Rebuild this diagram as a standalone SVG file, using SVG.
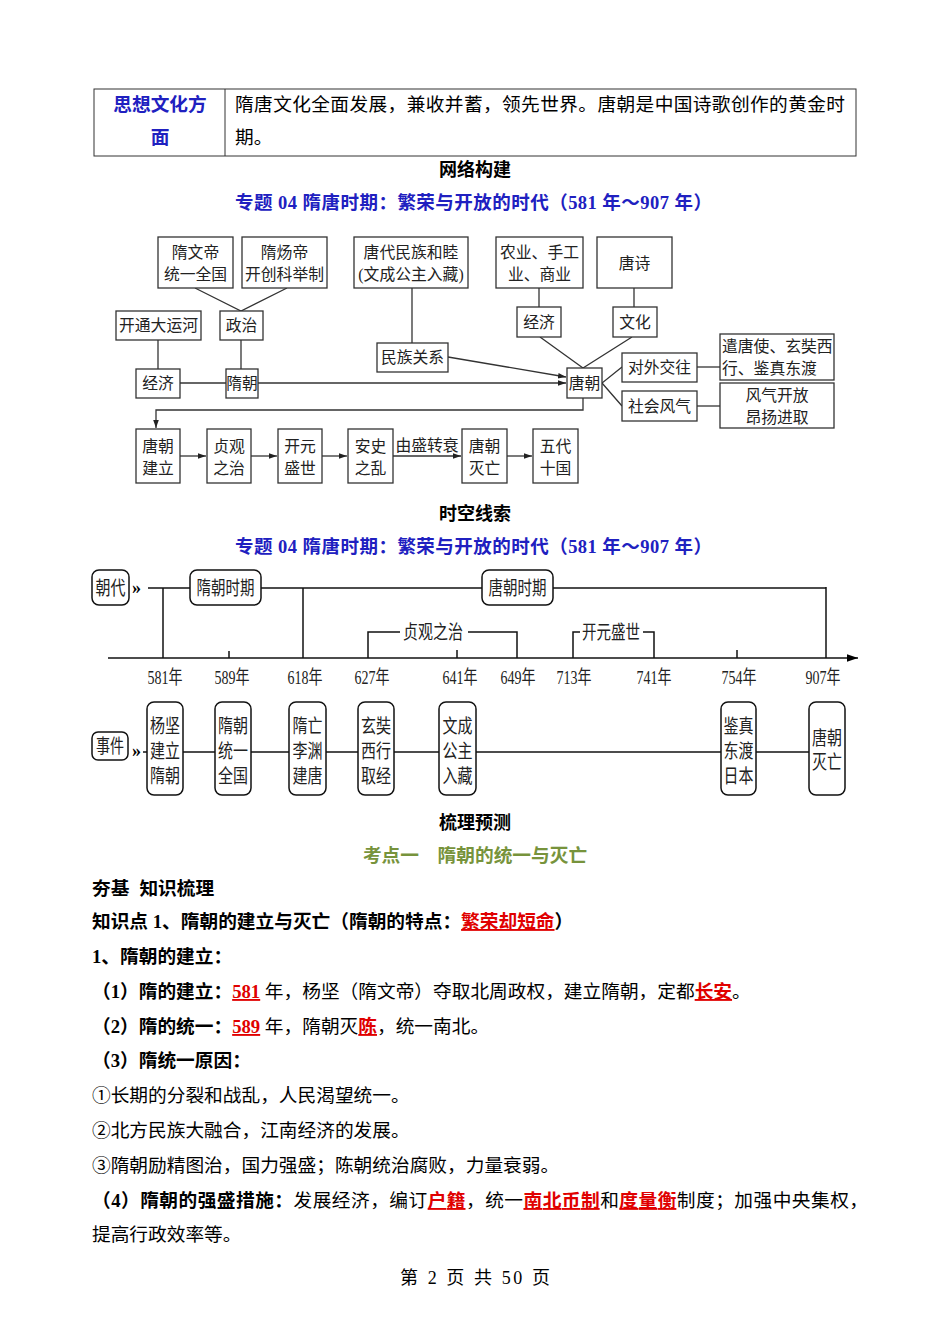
<svg xmlns="http://www.w3.org/2000/svg" width="950" height="1344" viewBox="0 0 950 1344">
<defs>
<marker id="ah" viewBox="0 0 10 10" refX="10" refY="5" markerWidth="8" markerHeight="8" markerUnits="userSpaceOnUse" orient="auto"><path d="M0,1.5 L10,5 L0,8.5 z" fill="#222"/></marker>
<marker id="ax" viewBox="0 0 10 10" refX="10" refY="5" markerWidth="11" markerHeight="11" markerUnits="userSpaceOnUse" orient="auto"><path d="M0,1.5 L10,5 L0,8.5 z" fill="#000"/></marker>
</defs>
<style>
text{font-family:'Liberation Serif','Noto Sans CJK SC',serif;fill:#000}
.b{font-weight:bold}
.blue{fill:#2020C0;font-weight:bold}
.red{fill:#E00000;font-weight:bold;text-decoration:underline}
.body{font-size:18.7px}
.nb{fill:#fff;stroke:#333;stroke-width:1.3}
.nt{font-size:15.8px;text-anchor:middle;fill:#222}
.nl{fill:none;stroke:#333;stroke-width:1.3}
.tb{fill:#fff;stroke:#111;stroke-width:1.5}
.tl{fill:none;stroke:#111;stroke-width:1.5}
.tt{font-size:19px;text-anchor:middle;fill:#222}
.yr{font-size:19px;text-anchor:middle;fill:#222}
</style>
<rect width="950" height="1344" fill="#fff"/>

<!-- top table -->
<g id="table">
<rect x="94" y="89" width="762" height="67" fill="none" stroke="#333" stroke-width="1"/>
<line x1="225" y1="89" x2="225" y2="156" stroke="#333" stroke-width="1"/>
<text class="blue" x="160" y="111" font-size="18.7" text-anchor="middle">思想文化方</text>
<text class="blue" x="160" y="144" font-size="18.7" text-anchor="middle">面</text>
<text class="body" x="235" y="111" textLength="610" lengthAdjust="spacing">隋唐文化全面发展，兼收并蓄，领先世界。唐朝是中国诗歌创作的黄金时</text>
<text class="body" x="235" y="144">期。</text>
</g>

<text class="b" x="475" y="176" font-size="18" text-anchor="middle">网络构建</text>
<text class="blue" x="235" y="209" font-size="18.5" textLength="477" lengthAdjust="spacing">专题 04  隋唐时期：繁荣与开放的时代（581 年～907 年）</text>

<!-- network diagram connectors -->
<g id="net-connectors">
<polyline class="nl" points="195,288 241,311 287,288"/>
<line class="nl" x1="158" y1="340" x2="158" y2="369"/>
<line class="nl" x1="241" y1="340" x2="241" y2="369"/>
<line class="nl" x1="180" y1="383" x2="226" y2="383"/>
<line class="nl" x1="258" y1="383" x2="566" y2="383" marker-end="url(#ah)"/>
<line class="nl" x1="412" y1="288" x2="412" y2="343"/>
<line class="nl" x1="448" y1="357" x2="566" y2="377" marker-end="url(#ah)"/>
<line class="nl" x1="539" y1="288" x2="539" y2="307"/>
<line class="nl" x1="634" y1="288" x2="634" y2="307"/>
<polyline class="nl" points="540,337 583,368 632,337"/>
<polyline class="nl" points="622,367 602,383 622,406"/>
<line class="nl" x1="697" y1="367" x2="720" y2="367"/>
<line class="nl" x1="697" y1="406" x2="720" y2="406"/>
<polyline class="nl" points="583,398 583,410 156,410 156,428" marker-end="url(#ah)"/>
<line class="nl" x1="180" y1="456" x2="206" y2="456" marker-end="url(#ah)"/>
<line class="nl" x1="251" y1="456" x2="277" y2="456" marker-end="url(#ah)"/>
<line class="nl" x1="322" y1="456" x2="347" y2="456" marker-end="url(#ah)"/>
<line class="nl" x1="393" y1="456" x2="461" y2="456" marker-end="url(#ah)"/>
<line class="nl" x1="507" y1="456" x2="532" y2="456" marker-end="url(#ah)"/>
<text class="nt" x="427" y="451">由盛转衰</text>
</g>

<!-- network nodes -->
<g id="n-suiwendi"><rect class="nb" x="158" y="237" width="75" height="51"/><text class="nt" x="195.5" y="258">隋文帝</text><text class="nt" x="195.5" y="280">统一全国</text></g>
<g id="n-suiyangdi"><rect class="nb" x="242" y="237" width="85" height="51"/><text class="nt" x="284.5" y="258">隋炀帝</text><text class="nt" x="284.5" y="280">开创科举制</text></g>
<g id="n-minzuhemu"><rect class="nb" x="354" y="237" width="114" height="51"/><text class="nt" x="411" y="258">唐代民族和睦</text><text class="nt" x="411" y="280">(文成公主入藏)</text></g>
<g id="n-yunhe"><rect class="nb" x="116" y="311" width="85" height="29"/><text class="nt" x="158.5" y="331">开通大运河</text></g>
<g id="n-zhengzhi"><rect class="nb" x="220" y="311" width="43" height="29"/><text class="nt" x="241.5" y="331">政治</text></g>
<g id="n-jingji1"><rect class="nb" x="136" y="369" width="44" height="29"/><text class="nt" x="158" y="389">经济</text></g>
<g id="n-suichao"><rect class="nb" x="226" y="369" width="32" height="29"/><text class="nt" x="242" y="389">隋朝</text></g>
<g id="n-minzuguanxi"><rect class="nb" x="377" y="343" width="71" height="29"/><text class="nt" x="412.5" y="363">民族关系</text></g>
<g id="n-nongye"><rect class="nb" x="496" y="237" width="87" height="51"/><text class="nt" x="539.5" y="258">农业、手工</text><text class="nt" x="539.5" y="280">业、商业</text></g>
<g id="n-tangshi"><rect class="nb" x="597" y="237" width="75" height="51"/><text class="nt" x="634.5" y="269">唐诗</text></g>
<g id="n-jingji2"><rect class="nb" x="517" y="307" width="44" height="30"/><text class="nt" x="539" y="328">经济</text></g>
<g id="n-wenhua"><rect class="nb" x="613" y="307" width="44" height="30"/><text class="nt" x="635" y="328">文化</text></g>
<g id="n-tangchao"><rect class="nb" x="567" y="368" width="35" height="30"/><text class="nt" x="584.5" y="389">唐朝</text></g>
<g id="n-duiwai"><rect class="nb" x="622" y="353" width="75" height="29"/><text class="nt" x="659.5" y="373">对外交往</text></g>
<g id="n-shehui"><rect class="nb" x="622" y="391" width="75" height="30"/><text class="nt" x="659.5" y="412">社会风气</text></g>
<g id="n-qiantang"><rect class="nb" x="720" y="334" width="114" height="46"/><text class="nt" x="722" y="352" style="text-anchor:start">遣唐使、玄奘西</text><text class="nt" x="722" y="374" style="text-anchor:start">行、鉴真东渡</text></g>
<g id="n-fengqi"><rect class="nb" x="720" y="383" width="114" height="45"/><text class="nt" x="777" y="401">风气开放</text><text class="nt" x="777" y="423">昂扬进取</text></g>
<g id="n-tangjianli"><rect class="nb" x="136" y="429" width="44" height="54"/><text class="nt" x="158" y="452">唐朝</text><text class="nt" x="158" y="474">建立</text></g>
<g id="n-zhenguan"><rect class="nb" x="207" y="429" width="44" height="54"/><text class="nt" x="229" y="452">贞观</text><text class="nt" x="229" y="474">之治</text></g>
<g id="n-kaiyuan"><rect class="nb" x="278" y="429" width="44" height="54"/><text class="nt" x="300" y="452">开元</text><text class="nt" x="300" y="474">盛世</text></g>
<g id="n-anshi"><rect class="nb" x="348" y="429" width="45" height="54"/><text class="nt" x="370.5" y="452">安史</text><text class="nt" x="370.5" y="474">之乱</text></g>
<g id="n-tangmiewang"><rect class="nb" x="462" y="429" width="45" height="54"/><text class="nt" x="484.5" y="452">唐朝</text><text class="nt" x="484.5" y="474">灭亡</text></g>
<g id="n-wudai"><rect class="nb" x="533" y="429" width="45" height="54"/><text class="nt" x="555.5" y="452">五代</text><text class="nt" x="555.5" y="474">十国</text></g>

<text class="b" x="475" y="520" font-size="18" text-anchor="middle">时空线索</text>
<text class="blue" x="235" y="553" font-size="18.5" textLength="477" lengthAdjust="spacing">专题 04  隋唐时期：繁荣与开放的时代（581 年～907 年）</text>

<!-- timeline connectors -->
<g id="timeline-connectors">
<line class="tl" x1="148" y1="588" x2="826" y2="588"/>
<line class="tl" x1="826" y1="587" x2="826" y2="658"/>
<line class="tl" x1="163" y1="588" x2="163" y2="658"/>
<line class="tl" x1="303" y1="588" x2="303" y2="658"/>
<line class="tl" x1="229" y1="651" x2="229" y2="658"/>
<line class="tl" x1="457" y1="650" x2="457" y2="658"/>
<line class="tl" x1="737" y1="650" x2="737" y2="658"/>
<polyline class="tl" points="368,658 368,632 400,632"/>
<polyline class="tl" points="468,632 517,632 517,658"/>
<polyline class="tl" points="573,658 573,632 580,632"/>
<polyline class="tl" points="643,632 654,632 654,658"/>
<line class="tl" x1="108" y1="658" x2="858" y2="658" marker-end="url(#ax)"/>
<line class="tl" x1="143" y1="752" x2="809" y2="752"/>
<text class="tt" x="433" y="639" textLength="60" lengthAdjust="spacingAndGlyphs">贞观之治</text>
<text class="tt" x="611" y="639" textLength="58" lengthAdjust="spacingAndGlyphs">开元盛世</text>
<text class="yr" x="165" y="684" textLength="35" lengthAdjust="spacingAndGlyphs">581年</text>
<text class="yr" x="232" y="684" textLength="35" lengthAdjust="spacingAndGlyphs">589年</text>
<text class="yr" x="305" y="684" textLength="35" lengthAdjust="spacingAndGlyphs">618年</text>
<text class="yr" x="372" y="684" textLength="35" lengthAdjust="spacingAndGlyphs">627年</text>
<text class="yr" x="460" y="684" textLength="35" lengthAdjust="spacingAndGlyphs">641年</text>
<text class="yr" x="518" y="684" textLength="35" lengthAdjust="spacingAndGlyphs">649年</text>
<text class="yr" x="574" y="684" textLength="35" lengthAdjust="spacingAndGlyphs">713年</text>
<text class="yr" x="654" y="684" textLength="35" lengthAdjust="spacingAndGlyphs">741年</text>
<text class="yr" x="739" y="684" textLength="35" lengthAdjust="spacingAndGlyphs">754年</text>
<text class="yr" x="823" y="684" textLength="35" lengthAdjust="spacingAndGlyphs">907年</text>
<text x="132" y="594" font-size="18" font-weight="bold" fill="#222">»</text>
<text x="132" y="757" font-size="18" font-weight="bold" fill="#222">»</text>
</g>

<!-- timeline nodes -->
<g id="t-chaodai"><rect class="tb" x="92" y="570" width="37" height="35" rx="7"/><text class="tt" x="110.5" y="595" textLength="30" lengthAdjust="spacingAndGlyphs">朝代</text></g>
<g id="t-suiqi"><rect class="tb" x="190" y="570" width="71" height="35" rx="7"/><text class="tt" x="225.5" y="595" textLength="58" lengthAdjust="spacingAndGlyphs">隋朝时期</text></g>
<g id="t-tangqi"><rect class="tb" x="482" y="570" width="71" height="35" rx="7"/><text class="tt" x="517.5" y="595" textLength="58" lengthAdjust="spacingAndGlyphs">唐朝时期</text></g>
<g id="t-shijian"><rect class="tb" x="92" y="732" width="36" height="28" rx="6"/><text class="tt" x="110" y="753" textLength="28" lengthAdjust="spacingAndGlyphs">事件</text></g>
<g id="e1"><rect class="tb" x="147" y="702" width="36" height="93" rx="7"/><text class="tt" x="165" y="733" textLength="30" lengthAdjust="spacingAndGlyphs">杨坚</text><text class="tt" x="165" y="758" textLength="30" lengthAdjust="spacingAndGlyphs">建立</text><text class="tt" x="165" y="783" textLength="30" lengthAdjust="spacingAndGlyphs">隋朝</text></g>
<g id="e2"><rect class="tb" x="215" y="702" width="36" height="93" rx="7"/><text class="tt" x="233" y="733" textLength="30" lengthAdjust="spacingAndGlyphs">隋朝</text><text class="tt" x="233" y="758" textLength="30" lengthAdjust="spacingAndGlyphs">统一</text><text class="tt" x="233" y="783" textLength="30" lengthAdjust="spacingAndGlyphs">全国</text></g>
<g id="e3"><rect class="tb" x="289" y="702" width="37" height="93" rx="7"/><text class="tt" x="307.5" y="733" textLength="30" lengthAdjust="spacingAndGlyphs">隋亡</text><text class="tt" x="307.5" y="758" textLength="30" lengthAdjust="spacingAndGlyphs">李渊</text><text class="tt" x="307.5" y="783" textLength="30" lengthAdjust="spacingAndGlyphs">建唐</text></g>
<g id="e4"><rect class="tb" x="358" y="702" width="36" height="93" rx="7"/><text class="tt" x="376" y="733" textLength="30" lengthAdjust="spacingAndGlyphs">玄奘</text><text class="tt" x="376" y="758" textLength="30" lengthAdjust="spacingAndGlyphs">西行</text><text class="tt" x="376" y="783" textLength="30" lengthAdjust="spacingAndGlyphs">取经</text></g>
<g id="e5"><rect class="tb" x="439" y="702" width="37" height="93" rx="7"/><text class="tt" x="457.5" y="733" textLength="30" lengthAdjust="spacingAndGlyphs">文成</text><text class="tt" x="457.5" y="758" textLength="30" lengthAdjust="spacingAndGlyphs">公主</text><text class="tt" x="457.5" y="783" textLength="30" lengthAdjust="spacingAndGlyphs">入藏</text></g>
<g id="e6"><rect class="tb" x="721" y="702" width="35" height="93" rx="7"/><text class="tt" x="738.5" y="733" textLength="30" lengthAdjust="spacingAndGlyphs">鉴真</text><text class="tt" x="738.5" y="758" textLength="30" lengthAdjust="spacingAndGlyphs">东渡</text><text class="tt" x="738.5" y="783" textLength="30" lengthAdjust="spacingAndGlyphs">日本</text></g>
<g id="e7"><rect class="tb" x="809" y="702" width="36" height="93" rx="7"/><text class="tt" x="827" y="745" textLength="30" lengthAdjust="spacingAndGlyphs">唐朝</text><text class="tt" x="827" y="769" textLength="30" lengthAdjust="spacingAndGlyphs">灭亡</text></g>

<!-- text section -->
<g id="text-section">
<text class="b" x="475" y="829" font-size="18" text-anchor="middle">梳理预测</text>
<text x="475" y="862" font-size="18.7" text-anchor="middle" font-weight="bold" style="fill:#77933C">考点一　隋朝的统一与灭亡</text>
<text class="b body" x="92" y="895">夯基<tspan dx="10">知识梳理</tspan></text>
<text class="b body" x="92" y="928">知识点 1、隋朝的建立与灭亡（隋朝的特点：<tspan class="red">繁荣却短命</tspan>）</text>
<text class="b body" x="92" y="963">1、隋朝的建立：</text>
<text class="body" x="92" y="998"><tspan class="b">（1）隋的建立：</tspan><tspan class="red">581</tspan> 年，杨坚（隋文帝）夺取北周政权，建立隋朝，定都<tspan class="red">长安</tspan>。</text>
<text class="body" x="92" y="1033"><tspan class="b">（2）隋的统一：</tspan><tspan class="red">589</tspan> 年，隋朝灭<tspan class="red">陈</tspan>，统一南北。</text>
<text class="b body" x="92" y="1067">（3）隋统一原因：</text>
<text class="body" x="92" y="1102">①长期的分裂和战乱，人民渴望统一。</text>
<text class="body" x="92" y="1137">②北方民族大融合，江南经济的发展。</text>
<text class="body" x="92" y="1172">③隋朝励精图治，国力强盛；陈朝统治腐败，力量衰弱。</text>
<text class="body" x="92" y="1207" textLength="776" lengthAdjust="spacing"><tspan class="b">（4）隋朝的强盛措施：</tspan>发展经济，编订<tspan class="red">户籍</tspan>，统一<tspan class="red">南北币制</tspan>和<tspan class="red">度量衡</tspan>制度；加强中央集权，</text>
<text class="body" x="92" y="1241">提高行政效率等。</text>
<text x="400" y="1284" font-size="18" textLength="150" lengthAdjust="spacing">第 2 页 共 50 页</text>
</g>
</svg>
